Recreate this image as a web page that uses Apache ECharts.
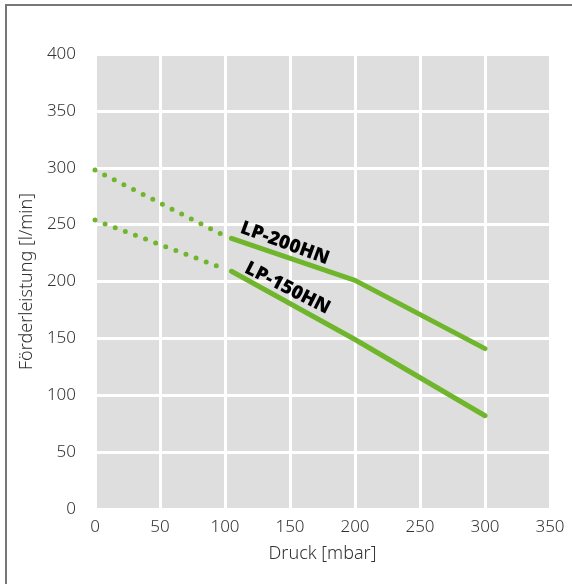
<!DOCTYPE html>
<html>
<head>
<meta charset="utf-8">
<script src="https://cdn.jsdelivr.net/npm/echarts@6/dist/echarts.min.js"></script>
<style>
html,body{margin:0;padding:0;background:#fff;}
#chart{width:572px;height:584px;}
</style>
</head>
<body>
<div id="chart"></div>
<script>
var xTicks = [0, 50, 100, 150, 200, 250, 300, 350];
var yTicks = [0, 50, 100, 150, 200, 250, 300, 350, 400];
var lp200Dotted = [[0, 298], [100, 240]];
var lp200Solid = [[105, 238], [200, 201], [300, 141]];
var lp150Dotted = [[0, 254], [100, 211]];
var lp150Solid = [[105, 209], [200, 149], [300, 82]];
var labelNames = ['LP-200HN', 'LP-150HN'];
var labelCoords = [[146, 233.5], [148, 194]];

var green = '#70b62c';
var font = 'Noto Sans';
var chart = echarts.init(document.getElementById('chart'), null, {renderer: 'canvas'});

function dotted(name, data) {
  return {
    name: name, type: 'line', data: data, symbol: 'none', silent: true,
    lineStyle: {color: green, width: 5, type: [0, 10.8], cap: 'round'},
    z: 3
  };
}
function solid(name, data, label, coord, rot) {
  return {
    name: name, type: 'line', data: data, symbol: 'none', silent: true,
    lineStyle: {color: green, width: 5, cap: 'round', join: 'round'},
    z: 3,
    markPoint: {
      symbol: 'circle', symbolSize: 1, silent: true,
      itemStyle: {color: 'rgba(0,0,0,0)'},
      data: [{coord: coord, value: label}],
      label: {
        show: true, position: 'inside', formatter: label, rotate: rot,
        color: '#000', fontWeight: 900, fontSize: 19, fontFamily: font
      }
    }
  };
}

chart.setOption({
  animation: false,
  graphic: [{
    type: 'polyline', silent: true,
    shape: {points: [[6, 600], [6, 5], [600, 5]]},
    style: {stroke: '#777', lineWidth: 2, fill: null}
  }],
  grid: {left: 95, right: 22, top: 54, bottom: 75, show: true, backgroundColor: '#dedede', borderWidth: 0},
  xAxis: {
    type: 'value', min: xTicks[0], max: xTicks[xTicks.length - 1], interval: 50,
    name: 'Druck [mbar]', nameLocation: 'middle', nameGap: 36,
    nameTextStyle: {fontSize: 18, color: '#333', fontFamily: font, fontWeight: 300},
    axisLine: {show: false}, axisTick: {show: false},
    axisLabel: {fontSize: 17, color: '#333', fontFamily: font, fontWeight: 300, margin: 10},
    splitLine: {show: true, lineStyle: {color: '#fff', width: 3}}
  },
  yAxis: {
    type: 'value', min: yTicks[0], max: yTicks[yTicks.length - 1], interval: 50,
    name: 'Förderleistung [l/min]', nameLocation: 'middle', nameGap: 48,
    nameTextStyle: {fontSize: 18, color: '#333', fontFamily: font, fontWeight: 300},
    axisLine: {show: false}, axisTick: {show: false},
    axisLabel: {fontSize: 17, color: '#333', fontFamily: font, fontWeight: 300, margin: 19},
    splitLine: {show: true, lineStyle: {color: '#fff', width: 3}}
  },
  series: [
    dotted('LP-200HN dotted', lp200Dotted),
    solid(labelNames[0], lp200Solid, labelNames[0], labelCoords[0], -20),
    dotted('LP-150HN dotted', lp150Dotted),
    solid(labelNames[1], lp150Solid, labelNames[1], labelCoords[1], -27)
  ]
});
</script>
</body>
</html>
